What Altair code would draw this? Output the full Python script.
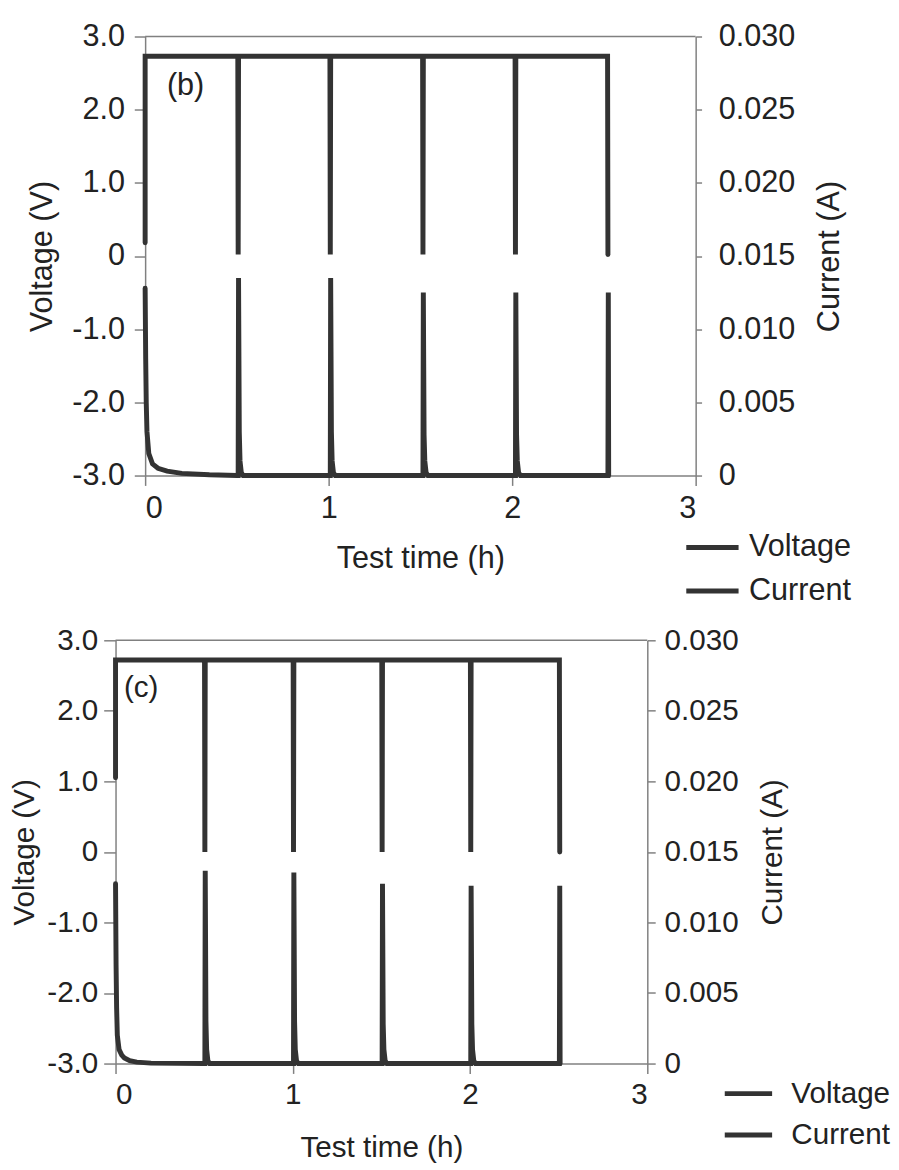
import altair as alt
import pandas as pd

FONT = "Liberation Sans"
INK = "#333333"
AX = "#808080"
TXT = "#222222"

# ---------------- Panel (b) ----------------
b_volt_t = [0.0, 0.0, 0.505, 0.507, 0.509, 1.007, 1.009, 1.011, 1.512, 1.514, 1.516,
            2.016, 2.018, 2.020, 2.520, 2.522]
b_volt_v = [0.18, 2.73, 2.73, 0.02, 2.73, 2.73, 0.02, 2.73, 2.73, 0.02, 2.73,
            2.73, 0.02, 2.73, 2.73, 0.02]

b_cur_t = [0.0, 0.003, 0.006, 0.010, 0.020, 0.040, 0.070, 0.120, 0.200, 0.350, 0.500,
           0.507, 0.509, 0.513, 0.517, 0.524, 0.534, 1.000,
           1.009, 1.011, 1.015, 1.019, 1.026, 1.036, 1.500,
           1.514, 1.516, 1.520, 1.524, 1.531, 1.541, 2.000,
           2.018, 2.020, 2.024, 2.028, 2.035, 2.045, 2.500,
           2.522, 2.524, 2.526]
b_cur_i = [0.0128, 0.0080, 0.0050, 0.0030, 0.0015, 0.0008, 0.0005, 0.0003, 0.00015, 0.00005, 0.0,
           0.0, 0.0135, 0.0030, 0.0010, 0.0002, 0.0, 0.0,
           0.0, 0.0135, 0.0030, 0.0010, 0.0002, 0.0, 0.0,
           0.0, 0.0125, 0.0028, 0.0010, 0.0002, 0.0, 0.0,
           0.0, 0.0125, 0.0028, 0.0010, 0.0002, 0.0, 0.0,
           0.0, 0.0125, 0.0]

# ---------------- Panel (c) ----------------
c_volt_t = [0.0, 0.0, 0.502, 0.504, 0.506, 1.002, 1.004, 1.006, 1.502, 1.504, 1.506,
            2.002, 2.004, 2.006, 2.504, 2.506]
c_volt_v = [1.05, 2.72, 2.72, 0.0, 2.72, 2.72, 0.0, 2.72, 2.72, 0.0, 2.72,
            2.72, 0.0, 2.72, 2.72, 0.0]

c_cur_t = [0.0, 0.003, 0.006, 0.010, 0.020, 0.035, 0.050, 0.080, 0.120, 0.200, 0.500,
           0.504, 0.506, 0.510, 0.514, 0.521, 0.531, 1.000,
           1.004, 1.006, 1.010, 1.014, 1.021, 1.031, 1.500,
           1.504, 1.506, 1.510, 1.514, 1.521, 1.531, 2.000,
           2.004, 2.006, 2.010, 2.014, 2.021, 2.031, 2.500,
           2.504, 2.506, 2.508]
c_cur_i = [0.01275, 0.0070, 0.0040, 0.0020, 0.0010, 0.0006, 0.0004, 0.0002, 0.0001, 0.00003, 0.0,
           0.0, 0.01366, 0.0030, 0.0010, 0.0002, 0.0, 0.0,
           0.0, 0.01355, 0.0030, 0.0010, 0.0002, 0.0, 0.0,
           0.0, 0.01275, 0.0028, 0.0010, 0.0002, 0.0, 0.0,
           0.0, 0.0126, 0.0028, 0.0010, 0.0002, 0.0, 0.0,
           0.0, 0.0126, 0.0]

x_ticks = [0, 1, 2, 3]
v_ticks = [-3, -2, -1, 0, 1, 2, 3]
i_ticks = [0, 0.005, 0.010, 0.015, 0.020, 0.025, 0.030]

V_EXPR = "datum.value == 0 ? '0' : (datum.value < 0 ? '-' + format(-datum.value, '.1f') : format(datum.value, '.1f'))"
I_EXPR = "datum.value == 0 ? '0' : format(datum.value, '.3f')"


def panel(vt, vv, ct, ci, label, w, h, fs, p):
    dv = pd.DataFrame({"t": vt, "v": vv, "series": "Voltage", "k": list(range(len(vt)))})
    dc = pd.DataFrame({"t": ct, "c": ci, "series": "Current", "k": list(range(len(ct)))})
    common = dict(labelFont=FONT, titleFont=FONT, labelFontSize=fs, titleFontSize=fs,
                  labelColor=TXT, titleColor=TXT, titleFontWeight="normal",
                  domainColor=AX, tickColor=AX, domainWidth=1.5, tickWidth=1.5, grid=False)
    color = alt.Color(
        "series:N",
        scale=alt.Scale(domain=["Voltage", "Current"], range=[INK, INK]),
        legend=alt.Legend(
            title=None, orient="none", legendX=p["lx"], legendY=p["ly"],
            symbolType="stroke", symbolStrokeWidth=5, symbolSize=p["sym"] ** 2,
            labelFontSize=fs, labelFont=FONT, labelColor=TXT,
            labelOffset=p["loff"], rowPadding=0, padding=0,
        ),
    )
    x = alt.X(
        "t:Q",
        scale=alt.Scale(domain=[0, 3], nice=False, zero=False),
        axis=alt.Axis(values=x_ticks, format="d", title="Test time (h)",
                      tickSize=10, labelPadding=p["xlp"], titlePadding=p["xtp"], **common),
    )
    volt = alt.Chart(dv).mark_line(strokeWidth=5, strokeCap="round", clip=False).encode(
        x=x,
        y=alt.Y("v:Q", scale=alt.Scale(domain=[-3, 3], nice=False),
                axis=alt.Axis(values=v_ticks, title="Voltage (V)", tickSize=p["lts"],
                              labelPadding=p["llp"], titlePadding=p["ltp"],
                              labelExpr=V_EXPR, **common)),
        color=color,
        order="k:Q",
    )
    cur = alt.Chart(dc).mark_line(strokeWidth=5, strokeCap="round", clip=False).encode(
        x=x,
        y=alt.Y("c:Q", scale=alt.Scale(domain=[0, 0.03], nice=False),
                axis=alt.Axis(values=i_ticks, orient="right", title="Current (A)",
                              titleAngle=270, titleBaseline="top",
                              tickSize=p["rts"], labelPadding=p["rlp"], titlePadding=p["rtp"],
                              labelExpr=I_EXPR, **common)),
        color=color,
        order="k:Q",
    )
    top = alt.Chart(pd.DataFrame({"z": [0]})).mark_rule(color=AX, strokeWidth=1.5).encode(
        x=alt.value(0), x2=alt.value(w), y=alt.value(0)
    )
    txt = alt.Chart(pd.DataFrame({"lab": [label]})).mark_text(
        fontSize=fs, font=FONT, color=TXT, align="center", baseline="middle"
    ).encode(x=alt.value(p["tx"]), y=alt.value(p["ty"]), text="lab:N")
    return alt.layer(top, volt, cur, txt).resolve_scale(y="independent").properties(width=w, height=h)


def spacer(wd):
    return alt.Chart(pd.DataFrame({"s": [0]})).mark_point(opacity=0).properties(width=wd, height=10)


pb_params = dict(lx=688, ly=489, sym=53, loff=8, xlp=9, xtp=20,
                 lts=11, llp=10, ltp=13, rts=6, rlp=17, rtp=20, tx=41, ty=50)
pc_params = dict(lx=727, ly=433, sym=48, loff=17, xlp=6, xtp=24,
                 lts=12, llp=6, ltp=7, rts=8, rlp=9, rtp=20, tx=26, ty=48)

pb = panel(b_volt_t, b_volt_v, b_cur_t, b_cur_i, "(b)", 558, 445, 31, pb_params)
pc = panel(c_volt_t, c_volt_v, c_cur_t, c_cur_i, "(c)", 539, 429, 30, pc_params)

row_b = alt.hconcat(spacer(22), pb, spacing=0)
row_c = alt.hconcat(spacer(2), pc, spacing=0)

chart = alt.vconcat(row_b, row_c, spacing=19).resolve_scale(color="independent").configure_view(
    stroke="transparent"
).properties(padding={"left": -5, "top": 4, "right": 0, "bottom": 0})

chart.save("out.html", embed_options={"renderer": "svg", "actions": False})
